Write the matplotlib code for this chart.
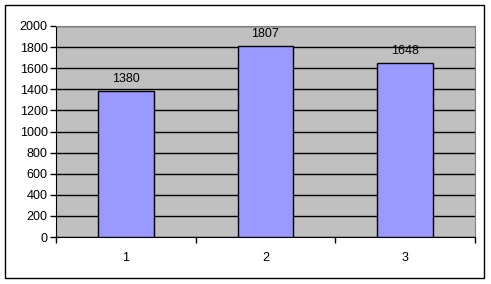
import matplotlib
matplotlib.use("Agg")
import matplotlib.pyplot as plt
from matplotlib.patches import Rectangle

categories = ["1", "2", "3"]
values = [1380, 1807, 1648]
y_ticks = list(range(0, 2001, 200))

plt.rcParams["font.family"] = ["Liberation Sans", "DejaVu Sans"]
plt.rcParams["font.size"] = 9

W, H = 491, 284
fig = plt.figure(figsize=(W / 100, H / 100), dpi=100)
fig.patches.append(Rectangle((5 / W, 1 - 278 / H), 479 / W, 273 / H,
                             transform=fig.transFigure, fill=False,
                             edgecolor="black", linewidth=1))

ax = fig.add_axes([56 / W, 1 - 237 / H, (475 - 56) / W, (237 - 26) / H])
ax.set_facecolor("#C0C0C0")

x = list(range(len(categories)))
ax.bar(x, values, width=0.4, color="#9999FF", edgecolor="black", linewidth=1, zorder=3)
for xi, v in zip(x, values):
    ax.text(xi, v + 60, str(v), ha="center", va="bottom", fontsize=9, zorder=4)

ax.set_xlim(-0.5, len(categories) - 0.5)
ax.set_ylim(0, 2000)
ax.set_yticks(y_ticks)
ax.yaxis.grid(True, color="black", linewidth=1, zorder=1)
ax.set_axisbelow(True)

ax.set_xticks([i - 0.5 for i in range(len(categories) + 1)], minor=False)
ax.set_xticklabels([])
ax.set_xticks(x, minor=True)
ax.set_xticklabels(categories, minor=True)
ax.tick_params(axis="x", which="major", length=4, width=1, direction="out")
ax.tick_params(axis="x", which="minor", length=0, pad=11)
ax.tick_params(axis="y", length=4, width=1, direction="out", pad=2)

for s in ["left", "bottom"]:
    ax.spines[s].set_color("black")
for s in ["top", "right"]:
    ax.spines[s].set_color("#808080")

fig.savefig("out.png", dpi=100)
